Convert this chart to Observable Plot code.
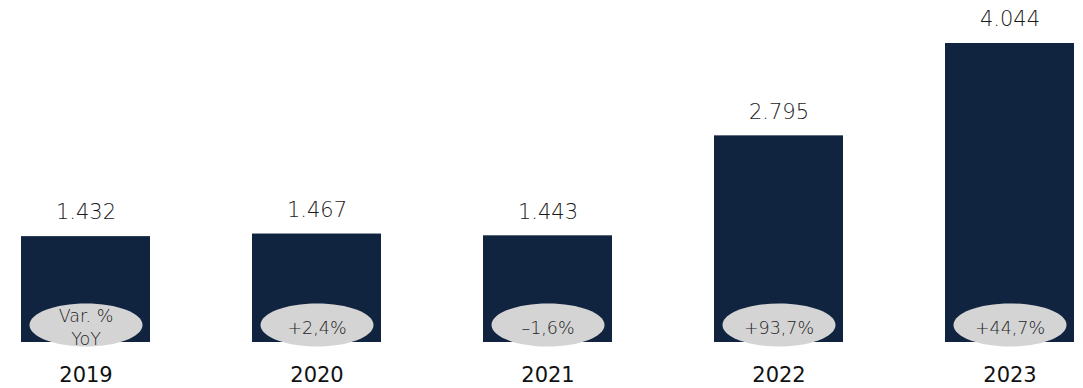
<!DOCTYPE html>
<html>
<head>
<meta charset="utf-8">
<script src="https://cdn.jsdelivr.net/npm/d3@7"></script>
<script src="https://cdn.jsdelivr.net/npm/@observablehq/plot@0.6"></script>
<style>
  html, body { margin: 0; padding: 0; background: #fff; }
  #chart svg { display: block; }
</style>
</head>
<body>
<div id="chart"></div>
<script>
const years = ["2019", "2020", "2021", "2022", "2023"];
const values = [1432, 1467, 1443, 2795, 4044];
const variations = ["Var. %\nYoY", "+2,4%", "–1,6%", "+93,7%", "+44,7%"];

const data = years.map((year, i) => ({ year, value: values[i], variation: variations[i] }));
const fmt = d3.formatLocale({ decimal: ",", thousands: ".", grouping: [3], currency: ["", ""] }).format(",d");

const ellipse = {
  draw(ctx) {
    const rx = 56.5, ry = 21.5, k = 0.5523;
    ctx.moveTo(rx, 0);
    ctx.bezierCurveTo(rx, ry * k, rx * k, ry, 0, ry);
    ctx.bezierCurveTo(-rx * k, ry, -rx, ry * k, -rx, 0);
    ctx.bezierCurveTo(-rx, -ry * k, -rx * k, -ry, 0, -ry);
    ctx.bezierCurveTo(rx * k, -ry, rx, -ry * k, rx, 0);
    ctx.closePath();
  }
};

const chart = Plot.plot({
  width: 1083,
  height: 388,
  marginTop: 43,
  marginBottom: 46,
  marginLeft: 21,
  marginRight: 9,
  style: { fontFamily: "'DejaVu Sans', sans-serif", background: "#fff" },
  x: { domain: years, paddingInner: 0.442, paddingOuter: 0, axis: null },
  y: { domain: [0, 4044], axis: null },
  marks: [
    Plot.barY(data, { x: "year", y: "value", fill: "#10243f" }),
    Plot.dot(data, { x: "year", y: () => 0, dy: -17.5, symbol: ellipse, r: 10, fill: "#d4d4d4", stroke: "none" }),
    Plot.text(data, { x: "year", y: () => 0, dy: -16, text: "variation", fontSize: 17.5, fill: "#1e1e1e", lineAnchor: "middle", lineHeight: 1.3, fontWeight: 200 }),
    Plot.text(data, { x: "year", y: "value", dy: -24, text: d => fmt(d.value), fontSize: 21, fill: "#1a1a1a", lineAnchor: "middle", fontWeight: 200 }),
    Plot.text(data, { x: "year", y: () => 0, dy: 32.5, text: "year", fontSize: 21, fill: "#111", lineAnchor: "middle", fontWeight: 400 })
  ]
});
document.getElementById("chart").appendChild(chart);
</script>
</body>
</html>
